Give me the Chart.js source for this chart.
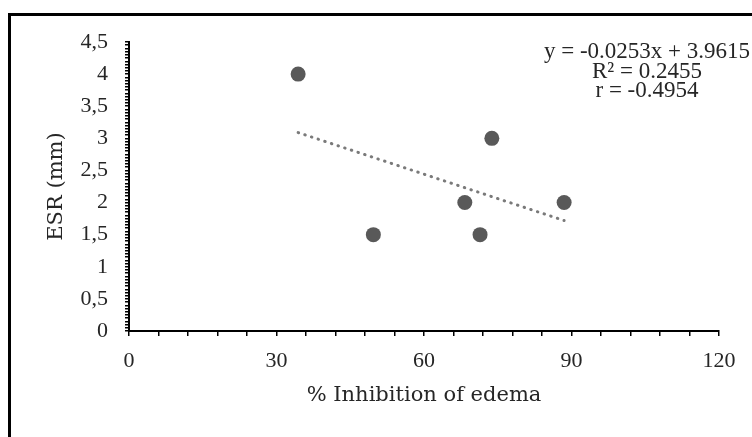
<!DOCTYPE html>
<html>
<head>
<meta charset="utf-8">
<script src="https://cdn.jsdelivr.net/npm/chart.js@4.4.1/dist/chart.umd.min.js"></script>
<style>
    body { margin: 0; background: #fff; overflow: hidden; }
    #wrap { position: relative; width: 752px; height: 437px; overflow: hidden; }
    #frame { position: absolute; left: 8px; top: 13px; width: 800px; height: 500px; border: 3px solid #000; }
    #esrChart { position: absolute; left: 0; top: 0; }
</style>
</head>
<body>
<div id="wrap">
    <div id="frame"></div>
    <canvas id="esrChart" width="752" height="437"></canvas>
</div>
<script>
    // values
    const inhibition = [34.4, 49.7, 68.3, 71.4, 73.8, 88.5];
    const esr = [4, 1.5, 2, 1.5, 3, 2];

    // dotted linear trend line, end points
    const trendX = [34.4, 88.5];
    const trendY = [3.09, 1.72];

    const xTickValues = [0, 30, 60, 90, 120];
    const xTickLabels = ['0', '30', '60', '90', '120'];
    const yTickValues = [0, 0.5, 1, 1.5, 2, 2.5, 3, 3.5, 4, 4.5];
    const yTickLabels = ['0', '0,5', '1', '1,5', '2', '2,5', '3', '3,5', '4', '4,5'];

    const equationLines = ['y = -0.0253x + 3.9615', 'R² = 0.2455', 'r = -0.4954'];

    const textColor = '#262626';
    const tickFont = {family: 'Liberation Serif', size: 22};
    const titleFont = {family: 'DejaVu Serif', size: 21};

    function labelFor(values, labels, v) {
        const i = values.findIndex(t => Math.abs(t - v) < 1e-6);
        return i >= 0 ? labels[i] : '';
    }

    const equationPlugin = {
        id: 'equation',
        afterDraw(chart) {
            const ctx = chart.ctx;
            ctx.save();
            ctx.font = '23px "Liberation Serif"';
            ctx.fillStyle = textColor;
            ctx.textAlign = 'center';
            ctx.textBaseline = 'middle';
            equationLines.forEach((line, i) => {
                ctx.fillText(line, 647, 52 + i * 19.5);
            });
            ctx.restore();
        }
    };

    new Chart(document.getElementById('esrChart').getContext('2d'), {
        type: 'scatter',
        data: {
            datasets: [
                {
                    label: 'ESR',
                    data: inhibition.map((x, i) => ({x: x, y: esr[i]})),
                    backgroundColor: '#595959',
                    borderColor: '#595959',
                    pointRadius: 7.5,
                    pointBorderWidth: 0,
                    order: 1
                },
                {
                    label: 'Linear',
                    data: trendX.map((x, i) => ({x: x, y: trendY[i]})),
                    showLine: true,
                    borderColor: '#7a7a7a',
                    borderWidth: 3,
                    borderDash: [0.5, 6.5],
                    borderCapStyle: 'round',
                    pointRadius: 0,
                    order: 2
                }
            ]
        },
        options: {
            responsive: false,
            animation: false,
            events: [],
            layout: {padding: {left: 0, right: 33, top: 42, bottom: 0}},
            plugins: {
                legend: {display: false},
                tooltip: {enabled: false}
            },
            scales: {
                x: {
                    type: 'linear',
                    min: 0,
                    max: 120,
                    ticks: {
                        stepSize: 6,
                        autoSkip: false,
                        maxRotation: 0,
                        padding: 12,
                        color: textColor,
                        font: tickFont,
                        callback: v => labelFor(xTickValues, xTickLabels, v)
                    },
                    grid: {drawOnChartArea: false, drawTicks: true, tickLength: 5, color: '#000', lineWidth: 1.5},
                    border: {color: '#000', width: 2},
                    title: {
                        display: true,
                        text: '% Inhibition of edema',
                        color: textColor,
                        font: titleFont,
                        padding: {top: 0, bottom: 29}
                    },
                    afterFit: s => { s.height = 106; }
                },
                y: {
                    type: 'linear',
                    min: 0,
                    max: 4.5,
                    ticks: {
                        stepSize: 0.05,
                        autoSkip: false,
                        padding: 17,
                        color: textColor,
                        font: tickFont,
                        callback: v => labelFor(yTickValues, yTickLabels, v)
                    },
                    grid: {drawOnChartArea: false, drawTicks: true, tickLength: 4, color: '#000', lineWidth: 1.5},
                    border: {color: '#000', width: 2},
                    title: {
                        display: true,
                        text: 'ESR (mm)',
                        color: textColor,
                        font: titleFont,
                        padding: {top: 44, bottom: 0}
                    },
                    afterFit: s => { s.width = 129; }
                }
            }
        },
        plugins: [equationPlugin]
    });
</script>
</body>
</html>
